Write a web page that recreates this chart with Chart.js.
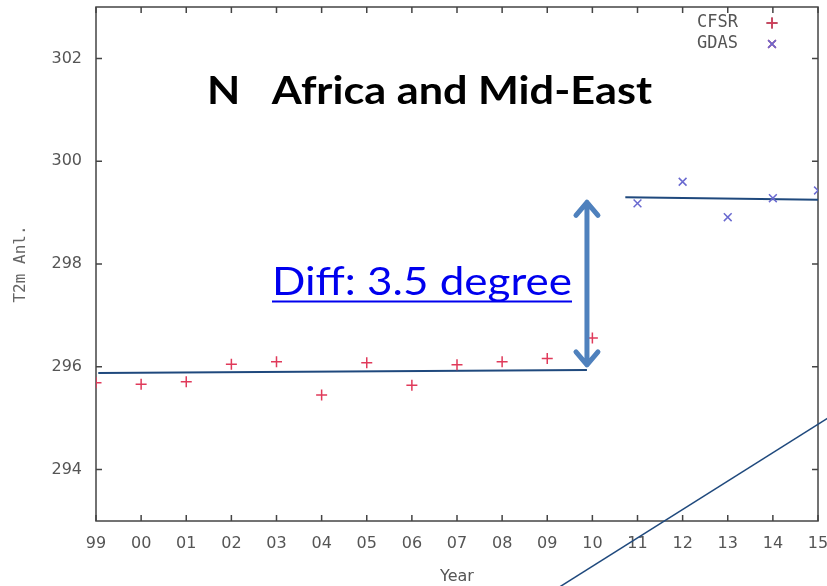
<!DOCTYPE html>
<html>
<head>
<meta charset="utf-8">
<script src="https://cdn.jsdelivr.net/npm/chart.js@4.4.0/dist/chart.umd.min.js"></script>
<style>html,body{margin:0;padding:0;background:#fff}</style>
</head>
<body>
<canvas id="c" width="827" height="586"></canvas>
<script>
// year labels, x index 0..16
const years = ['99','00','01','02','03','04','05','06','07','08','09','10','11','12','13','14','15'];
const yTicks = [294, 296, 298, 300, 302];

// CFSR 1999-2010, GDAS 2011-2015 (T2m analysis, K)
const cfsrT2m = [295.69, 295.66, 295.71, 296.05, 296.10, 295.45, 296.08, 295.64, 296.04, 296.10, 296.16, 296.56];
const gdasStart = 12;
const gdasT2m = [299.18, 299.60, 298.91, 299.28, 299.43];

// hand drawn fit lines and pointer line
const cfsrFitX = [0.05, 10.88];
const cfsrFitY = [295.88, 295.94];
const gdasFitX = [11.73, 16];
const gdasFitY = [299.30, 299.25];
const pointerX = [10.17, 16.38];
const pointerY = [291.66, 295.09];

// double arrow showing the jump
const diffArrowX = 10.88;
const diffArrowY = [299.24, 296.0];

const GRAY = '#555';
const MONO = "'DejaVu Sans Mono', monospace";
const SANS = "'DejaVu Sans', sans-serif";
const LINE_BLUE = '#1f497d';

const toPts = (xs, ys) => xs.map((x, i) => ({ x, y: ys[i] }));

const frame = {
  id: 'frame',
  beforeDatasetsDraw(chart) {
    const { ctx, chartArea: a, scales: { x, y } } = chart;
    ctx.save();
    ctx.strokeStyle = '#444';
    ctx.lineWidth = 1.5;
    ctx.strokeRect(a.left, a.top, a.right - a.left, a.bottom - a.top);
    ctx.beginPath();
    x.ticks.forEach(t => {
      const px = x.getPixelForValue(t.value);
      ctx.moveTo(px, a.bottom); ctx.lineTo(px, a.bottom - 6);
      ctx.moveTo(px, a.top); ctx.lineTo(px, a.top + 6);
    });
    y.ticks.forEach(t => {
      const py = y.getPixelForValue(t.value);
      ctx.moveTo(a.left, py); ctx.lineTo(a.left + 6, py);
      ctx.moveTo(a.right, py); ctx.lineTo(a.right - 6, py);
    });
    ctx.stroke();
    ctx.restore();
  },
  afterDraw(chart) {
    const { ctx, scales: { x, y } } = chart;
    ctx.save();

    // legend: label then marker
    ctx.font = '17px ' + MONO;
    ctx.fillStyle = GRAY;
    ctx.textAlign = 'right';
    ctx.textBaseline = 'middle';
    [0, 1].forEach(i => {
      const ds = chart.data.datasets[i];
      const yy = 23 + i * 21;
      ctx.fillText(ds.label, 738, yy);
      Chart.helpers.drawPoint(ctx, { pointStyle: ds.pointStyle, radius: 5.5, borderWidth: 1.5 }, 772, yy);
      ctx.strokeStyle = ds.borderColor;
      ctx.lineWidth = 1.5;
      ctx.stroke();
    });

    // fitted text helper
    const fitText = (txt, font, color, left, base, width) => {
      ctx.font = font;
      ctx.fillStyle = color;
      ctx.textAlign = 'left';
      ctx.textBaseline = 'alphabetic';
      const w = ctx.measureText(txt).width;
      ctx.save();
      ctx.translate(left, base);
      ctx.scale(width / w, 1);
      ctx.fillText(txt, 0, 0);
      ctx.restore();
    };
    fitText('N   Africa and Mid-East', "bold 39px Lato, sans-serif", '#000', 207, 104, 445);
    fitText('Diff: 3.5 degree', "39px Lato, sans-serif", '#0000ee', 272, 295, 300);
    ctx.fillStyle = '#0000ee';
    ctx.fillRect(272, 300.5, 300, 2);

    // double headed arrow
    const ax = x.getPixelForValue(diffArrowX);
    const y1 = y.getPixelForValue(diffArrowY[0]);
    const y2 = y.getPixelForValue(diffArrowY[1]);
    ctx.strokeStyle = '#4f81bd';
    ctx.lineWidth = 5;
    ctx.lineCap = 'round';
    ctx.lineJoin = 'round';
    ctx.beginPath();
    ctx.moveTo(ax, y1 + 2); ctx.lineTo(ax, y2 - 2);
    ctx.moveTo(ax - 11, y1 + 15); ctx.lineTo(ax, y1 + 2); ctx.lineTo(ax + 11, y1 + 15);
    ctx.moveTo(ax - 11, y2 - 15); ctx.lineTo(ax, y2 - 2); ctx.lineTo(ax + 11, y2 - 15);
    ctx.stroke();
    ctx.restore();
  }
};

new Chart(document.getElementById('c'), {
  type: 'scatter',
  data: {
    datasets: [
      { label: 'CFSR', data: cfsrT2m.map((v, i) => ({ x: i, y: v })), pointStyle: 'cross',
        radius: 5.5, borderWidth: 1.5, borderColor: '#e03a5a', backgroundColor: '#e03a5a' },
      { label: 'GDAS', data: gdasT2m.map((v, i) => ({ x: gdasStart + i, y: v })), pointStyle: 'crossRot',
        radius: 5.5, borderWidth: 1.5, borderColor: '#6a6ad0', backgroundColor: '#6a6ad0' },
      { type: 'line', label: 'fit1', data: toPts(cfsrFitX, cfsrFitY), borderColor: LINE_BLUE, borderWidth: 2, pointRadius: 0, clip: false },
      { type: 'line', label: 'fit2', data: toPts(gdasFitX, gdasFitY), borderColor: LINE_BLUE, borderWidth: 2, pointRadius: 0, clip: false },
      { type: 'line', label: 'pointer', data: toPts(pointerX, pointerY), borderColor: LINE_BLUE, borderWidth: 1.5, pointRadius: 0, clip: false }
    ]
  },
  options: {
    responsive: false,
    animation: false,
    layout: { padding: { top: 7, right: 9, left: 0, bottom: 0 } },
    plugins: { legend: { display: false }, tooltip: { enabled: false } },
    scales: {
      x: {
        type: 'linear', min: 0, max: 16,
        afterBuildTicks: s => { s.ticks = years.map((_, i) => ({ value: i })); },
        afterFit: s => { s.height = 65; s.paddingLeft = 0; s.paddingRight = 0; },
        ticks: { callback: v => years[v], color: GRAY, font: { family: SANS, size: 16 }, padding: 5, maxRotation: 0, autoSkip: false },
        grid: { display: false }, border: { display: false },
        title: { display: true, text: 'Year', color: GRAY, font: { family: SANS, size: 16 }, padding: { bottom: 0 } }
      },
      y: {
        min: 293, max: 303,
        afterBuildTicks: s => { s.ticks = yTicks.map(v => ({ value: v })); },
        afterFit: s => { s.width = 96; s.paddingTop = 0; s.paddingBottom = 0; },
        ticks: { color: GRAY, font: { family: SANS, size: 16 }, padding: 6 },
        grid: { display: false }, border: { display: false },
        title: { display: true, text: 'T2m Anl.', color: '#666', font: { family: MONO, size: 16 }, padding: { top: 11 } }
      }
    }
  },
  plugins: [frame]
});
</script>
</body>
</html>
